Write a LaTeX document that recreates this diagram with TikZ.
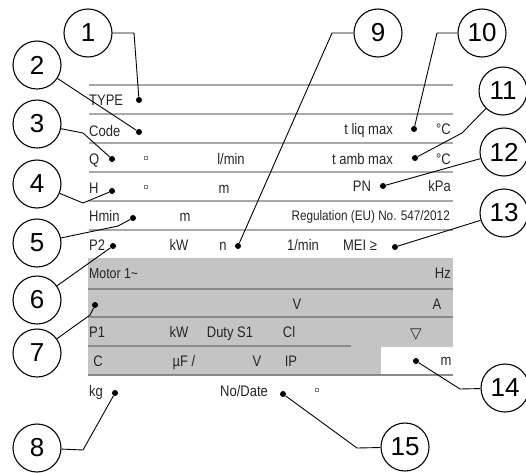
\documentclass[tikz,border=0pt]{standalone}
\usepackage{fontspec}
\setmainfont{Liberation Sans}
\newfontfamily\lblfont{Liberation Sans}[FakeStretch=0.85]
\newfontfamily\dejavu{DejaVu Sans}
\definecolor{txtc}{HTML}{262626}
\definecolor{rulec}{HTML}{A8A8A8}
\definecolor{grayfill}{HTML}{C4C4C4}
\definecolor{gruc}{HTML}{8A8A8A}
\begin{document}
\begin{tikzpicture}[x=1pt,y=-1pt,
  lbl/.style={inner sep=0pt, text height=10.9pt, text depth=0pt, font=\lblfont\fontsize{15.3}{17}\selectfont, text=txtc},
  num/.style={circle, draw, line width=1.1pt, minimum size=48pt, inner sep=0pt, font=\fontsize{26}{28}\selectfont},
  dotn/.style={circle, fill, inner sep=0pt, minimum size=6pt},
  sqn/.style={draw=gray, line width=0.6pt, inner sep=0pt, minimum size=3.5pt},
  lead/.style={line width=0.9pt},
  rulel/.style={draw=rulec, line width=1.4pt},
  grule/.style={draw=gruc, line width=1.2pt}]
\useasboundingbox (0,0) rectangle (526,472);

% table background
\fill[grayfill] (88,258) rectangle (453,375);
\fill[white] (381,347) rectangle (453,375);
\foreach \yy in {85,114,143,172,201,230} \draw[rulel] (89,\yy) -- (453,\yy);
\draw[grule] (88,289) -- (453,289);
\draw[grule] (88,317) -- (453,317);
\draw[grule] (88,346) -- (351,346);
\draw[grule] (88,375) -- (453,375);

% texts
\node[lbl, anchor=west] (tType) at (89,100) {TYPE};
\node[lbl, anchor=west] (tCode) at (89,131) {Code};
\node[lbl, anchor=east] (tliq) at (393,129) {t liq max};
\node[lbl, anchor=east] (tC1) at (451,129) {°C};
\node[lbl, anchor=west] (tQ) at (89,159) {Q};
\node[lbl] (tlmin) at (231,159) {l/min};
\node[lbl, anchor=east] (tamb) at (393,159) {t amb max};
\node[lbl, anchor=east] (tC2) at (451,159) {°C};
\node[lbl, anchor=west] (tH) at (89,188) {H};
\node[lbl] (tm1) at (224,188) {m};
\node[lbl] (tPN) at (362,186) {PN};
\node[lbl, anchor=east] (tkPa) at (451,186) {kPa};
\node[lbl, anchor=west] (tHmin) at (89,216) {Hmin};
\node[lbl] (tm2) at (185,216) {m};
\node[lbl, anchor=east, text height=9.8pt, font=\lblfont\fontsize{13.8}{15}\selectfont] (treg) at (450,216) {Regulation (EU) No. 547/2012};
\node[lbl, anchor=west] (tP2) at (89,245) {P2};
\node[lbl] (tkW1) at (179,245) {kW};
\node[lbl] (tn) at (223,245) {n};
\node[lbl] (t1min) at (303,245) {1/min};
\node[lbl] (tMEI) at (360,245) {MEI ≥};
\node[lbl, anchor=west, font=\lblfont\fontsize{14.5}{16}\selectfont] (tMotor) at (89,273) {Motor 1\textasciitilde};
\node[lbl, anchor=east] (tHz) at (451,273) {Hz};
\node[lbl] (tV1) at (297,304) {V};
\node[lbl] (tA) at (437,304) {A};
\node[lbl, anchor=west] (tP1) at (89,332) {P1};
\node[lbl] (tkW2) at (179,332) {kW};
\node[lbl] (tDuty) at (230,332) {Duty S1};
\node[lbl] (tCl) at (289,332) {Cl};
\node[lbl, font=\dejavu\fontsize{15}{17}\selectfont] (tTri) at (416,333) {▽};
\node[lbl] (tCc) at (98,361) {C};
\node[lbl] (tuF) at (184,361) {µF /};
\node[lbl] (tV2) at (257,361) {V};
\node[lbl] (tIP) at (291,361) {IP};
\node[lbl] (tm3) at (446,360) {m};
\node[lbl, anchor=west] (tkg) at (89,391) {kg};
\node[lbl] (tNo) at (244,391) {No/Date};

% small squares
\node[sqn] (s1) at (146,158) {};
\node[sqn] (s2) at (146,187) {};
\node[sqn] (s3) at (317,390) {};

% dots
\node[dotn] (d1) at (139,100) {};
\node[dotn] (d2) at (139,132) {};
\node[dotn] (d3) at (112,159) {};
\node[dotn] (d4) at (112,191) {};
\node[dotn] (d5) at (133,218) {};
\node[dotn] (d6) at (113,246) {};
\node[dotn] (d7) at (95,305) {};
\node[dotn] (d8) at (115,393) {};
\node[dotn] (d9) at (238,246) {};
\node[dotn] (d10) at (414,129) {};
\node[dotn] (d11) at (415,158) {};
\node[dotn] (d12) at (383,186) {};
\node[dotn] (d13) at (395,247) {};
\node[dotn] (d14) at (416,361) {};
\node[dotn] (d15) at (283,394) {};

% numbered circles
\node[num] (c1) at (88,33) {1};
\node[num] (c2) at (37,65) {2};
\node[num] (c3) at (37,124) {3};
\node[num] (c4) at (37,184) {4};
\node[num] (c5) at (37,243) {5};
\node[num] (c6) at (37,300) {6};
\node[num] (c7) at (37,353) {7};
\node[num] (c8) at (37,448) {8};
\node[num] (c9) at (378,33) {9};
\node[num] (c10) at (482,33) {10};
\node[num] (c11) at (503,91) {11};
\node[num] (c12) at (504,152) {12};
\node[num] (c13) at (504,213) {13};
\node[num] (c14) at (505,388) {14};
\node[num] (c15) at (405,447) {15};

% leaders
\draw[lead] (c1) -- (134,33) -- (d1);
\draw[lead] (c2) -- (d2);
\draw[lead] (c3) -- (83,133) -- (d3);
\draw[lead] (c4) -- (83,203) -- (d4);
\draw[lead] (c5) -- (118,226) -- (d5);
\draw[lead] (c6) -- (d6);
\draw[lead] (c7) -- (90,315) -- (d7);
\draw[lead] (c8) -- (83,450) -- (d8);
\draw[lead] (c9) -- (332,33) -- (d9);
\draw[lead] (c10) -- (437,33) -- (d10);
\draw[lead] (c11) -- (462,133) -- (d11);
\draw[lead] (c12) -- (d12);
\draw[lead] (c13) -- (d13);
\draw[lead] (c14) -- (460,389) -- (d14);
\draw[lead] (c15) -- (357,448) -- (d15);
\end{tikzpicture}
\end{document}
